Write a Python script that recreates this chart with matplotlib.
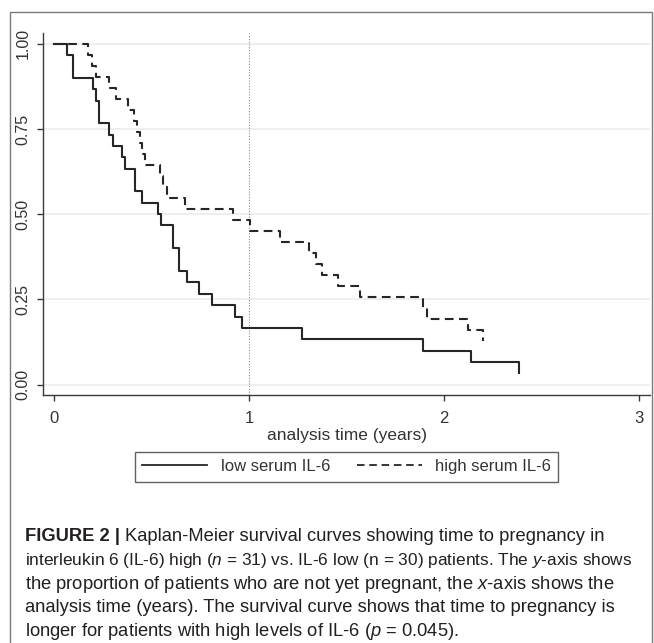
import matplotlib
matplotlib.use('Agg')
import matplotlib.pyplot as plt
from matplotlib.lines import Line2D
from matplotlib.patches import Rectangle

plt.rcParams['font.family'] = ['Liberation Sans', 'DejaVu Sans']
plt.rcParams['mathtext.fontset'] = 'custom'
plt.rcParams['mathtext.rm'] = 'Liberation Sans'
plt.rcParams['mathtext.it'] = 'Liberation Sans:italic'
plt.rcParams['mathtext.bf'] = 'Liberation Sans:bold'

# Kaplan-Meier steps (time in years, survival proportion)
low_t = [0, 0.065, 0.096, 0.20, 0.215, 0.232, 0.284, 0.30, 0.349, 0.364, 0.415, 0.45,
         0.535, 0.55, 0.609, 0.64, 0.68, 0.744, 0.81, 0.93, 0.963, 1.27, 1.889, 2.138, 2.386]
low_s = [1.0, 0.967, 0.900, 0.867, 0.833, 0.767, 0.733, 0.700, 0.667, 0.633, 0.567, 0.533,
         0.500, 0.467, 0.400, 0.333, 0.300, 0.267, 0.233, 0.200, 0.167, 0.133, 0.100, 0.067, 0.033]
high_t = [0, 0.176, 0.193, 0.214, 0.284, 0.32, 0.381, 0.41, 0.424, 0.44, 0.45, 0.466,
          0.544, 0.56, 0.578, 0.672, 0.919, 1.005, 1.159, 1.309, 1.344, 1.373, 1.458, 1.566,
          1.894, 1.91, 2.12, 2.20]
high_s = [1.0, 0.968, 0.935, 0.903, 0.871, 0.839, 0.806, 0.774, 0.742, 0.710, 0.677, 0.645,
          0.613, 0.581, 0.548, 0.516, 0.484, 0.452, 0.419, 0.387, 0.355, 0.323, 0.290, 0.258,
          0.226, 0.194, 0.161, 0.129]
yticks = [0, 0.25, 0.5, 0.75, 1.0]
xticks = [0, 1, 2, 3]
labels = ['low serum IL-6', 'high serum IL-6']

caption = [
    [("FIGURE 2 |", 'bold'), ("Kaplan-Meier survival curves showing time to pregnancy in", 'normal')],
    [("interleukin 6 (IL-6) high ($n$ = 31) vs. IL-6 low (n = 30) patients. The $y$-axis shows", 'normal')],
    [("the proportion of patients who are not yet pregnant, the $x$-axis shows the", 'normal')],
    [("analysis time (years). The survival curve shows that time to pregnancy is", 'normal')],
    [("longer for patients with high levels of IL-6 ($p$ = 0.045).", 'normal')],
]

W, H = 654, 643
fig = plt.figure(figsize=(W / 100, H / 100), dpi=100)
fig.patch.set_facecolor('white')

# outer frame of the figure panel
fig.patches.append(Rectangle((9.5 / W, -0.02), (652 - 9.5) / W, 1.02 - 11.7 / H,
                             transform=fig.transFigure, fill=False, edgecolor='#7a7a7a',
                             linewidth=1.0, zorder=0))

ax = fig.add_axes([43.3 / W, 1 - 394.5 / H, (650 - 43.3) / W, (394.5 - 33.3) / H])
ax.set_xlim(-0.0548, 3.055)
ax.set_ylim(-0.0287, 1.0305)

for y in yticks:
    ax.axhline(y, color='#ebebeb', linewidth=1.2, zorder=0)
ax.axvline(1, color='#8c8c8c', linestyle=(0, (1, 1.5)), linewidth=0.8, zorder=1)

dash = (0, (4.2, 2.6))
ax.step(low_t, low_s, where='post', color='#262626', linewidth=1.5, zorder=3)
ax.step(high_t, high_s, where='post', color='#262626', linewidth=1.5,
        linestyle=dash, zorder=3)

for s in ['top', 'right']:
    ax.spines[s].set_visible(False)
for s in ['left', 'bottom']:
    ax.spines[s].set_color('#3a3a3a')
    ax.spines[s].set_linewidth(1.0)

ax.set_yticks(yticks)
ax.set_yticklabels([f'{v:.2f}' for v in yticks], rotation=90, va='center', fontsize=11.5,
                   color='#333333')
ax.set_xticks(xticks)
ax.set_xticklabels([str(v) for v in xticks], fontsize=12, color='#333333')
ax.tick_params(axis='both', direction='out', length=4, width=1.0, color='#3a3a3a')
ax.tick_params(axis='y', pad=5)
ax.tick_params(axis='x', pad=8)
ax.set_xlabel('analysis time (years)', fontsize=12.5, color='#333333', labelpad=1)

handles = [Line2D([], [], color='#262626', linewidth=1.3),
           Line2D([], [], color='#262626', linewidth=1.3, linestyle=dash)]
leg = fig.legend(handles, labels, loc='center', ncol=2,
                 bbox_to_anchor=(346.5 / W, 1 - 466.5 / H), fontsize=12,
                 frameon=True, fancybox=False, handlelength=3.9, handletextpad=0.8,
                 columnspacing=1.6, borderpad=0.45, borderaxespad=0)
leg.get_frame().set_edgecolor('#3a3a3a')
leg.get_frame().set_linewidth(1.0)
for t in leg.get_texts():
    t.set_color('#333333')

# caption, one text object per line
fig.canvas.draw()
renderer = fig.canvas.get_renderer()
line_y = [536.7, 561, 584.3, 607.7, 631]
max_right = 634
for parts, yp in zip(caption, line_y):
    x = 25
    for txt, weight in parts:
        fs = 13.2
        t = fig.text(x / W, 1 - yp / H, txt, fontsize=fs, fontweight=weight,
                     color='#231f20', ha='left', va='center')
        bb = t.get_window_extent(renderer)
        if bb.x1 > max_right:
            fs = fs * (max_right - x) / (bb.x1 - x)
            t.set_fontsize(fs)
            bb = t.get_window_extent(renderer)
        x = bb.x1 + 5

fig.savefig('out.png', dpi=100, facecolor='white')
